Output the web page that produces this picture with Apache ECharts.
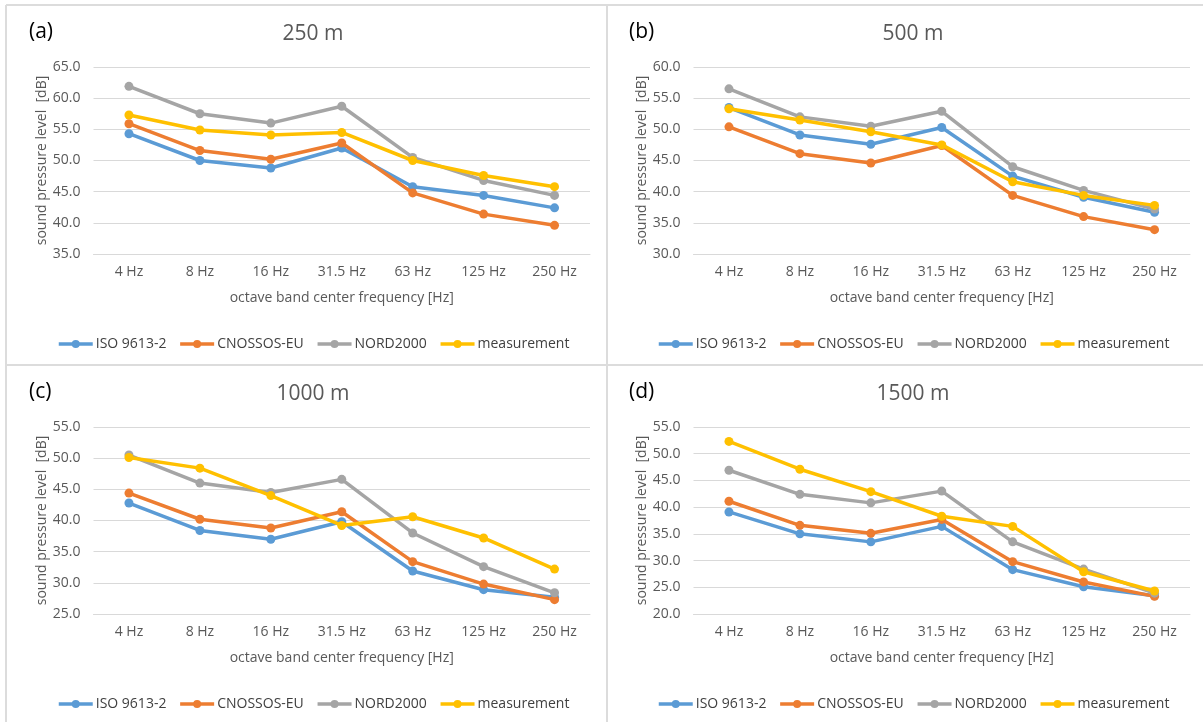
<!DOCTYPE html>
<html>
<head>
<meta charset="utf-8">
<script src="https://cdn.jsdelivr.net/npm/echarts@6/dist/echarts.min.js"></script>
<style>
  html, body { margin: 0; padding: 0; background: #ffffff; }
  #chart { width: 1203px; height: 722px; }
</style>
</head>
<body>
<div id="chart"></div>
<script>
// Octave band centre frequencies shared by all four panels
const categories = ['4 Hz', '8 Hz', '16 Hz', '31.5 Hz', '63 Hz', '125 Hz', '250 Hz'];
const seriesNames = ['ISO 9613-2', 'CNOSSOS-EU', 'NORD2000', 'measurement'];
const panelLetters = ['(a)', '(b)', '(c)', '(d)'];
const panelTitles = ['250 m', '500 m', '1000 m', '1500 m'];

// Y axis ranges per panel: [min, max, step]
const yRange250 = [35, 65, 5];
const yRange500 = [30, 60, 5];
const yRange1000 = [25, 55, 5];
const yRange1500 = [20, 55, 5];

// Sound pressure levels [dB] at 250 m
const iso250 = [54.3, 50.0, 48.8, 52.0, 45.8, 44.4, 42.4];
const cnossos250 = [55.9, 51.6, 50.2, 52.8, 44.8, 41.4, 39.6];
const nord250 = [61.9, 57.5, 56.0, 58.7, 50.5, 46.8, 44.4];
const meas250 = [57.3, 54.9, 54.1, 54.5, 50.0, 47.6, 45.8];

// Sound pressure levels [dB] at 500 m
const iso500 = [53.5, 49.1, 47.6, 50.3, 42.5, 39.1, 36.7];
const cnossos500 = [50.4, 46.1, 44.6, 47.4, 39.4, 36.0, 33.9];
const nord500 = [56.5, 52.0, 50.5, 52.9, 44.0, 40.2, 37.2];
const meas500 = [53.3, 51.5, 49.6, 47.5, 41.6, 39.4, 37.8];

// Sound pressure levels [dB] at 1000 m
const iso1000 = [42.8, 38.4, 37.0, 39.8, 31.9, 28.9, 27.7];
const cnossos1000 = [44.4, 40.2, 38.8, 41.4, 33.4, 29.8, 27.3];
const nord1000 = [50.5, 46.0, 44.5, 46.6, 38.0, 32.6, 28.4];
const meas1000 = [50.1, 48.4, 44.0, 39.2, 40.6, 37.2, 32.2];

// Sound pressure levels [dB] at 1500 m
const iso1500 = [39.1, 35.0, 33.5, 36.4, 28.3, 25.1, 23.4];
const cnossos1500 = [41.1, 36.6, 35.1, 37.7, 29.8, 26.0, 23.3];
const nord1500 = [46.9, 42.4, 40.8, 43.0, 33.5, 28.4, 23.9];
const meas1500 = [52.3, 47.1, 42.9, 38.3, 36.4, 27.9, 24.3];

const panelData = [
  [iso250, cnossos250, nord250, meas250],
  [iso500, cnossos500, nord500, meas500],
  [iso1000, cnossos1000, nord1000, meas1000],
  [iso1500, cnossos1500, nord1500, meas1500]
];
const panelRanges = [yRange250, yRange500, yRange1000, yRange1500];

const colors = ['#5B9BD5', '#ED7D31', '#A5A5A5', '#FFC000'];
const FONT = '"Open Sans", "Liberation Sans", sans-serif';
const TEXT = '#595959';
const GRID_LINE = '#d9d9d9';
const LINE_W = 3.5;

const grids = [], xAxes = [], yAxes = [], series = [], legends = [], titles = [];

for (let p = 0; p < 4; p++) {
  const ox = (p % 2) * 600;
  const oy = Math.floor(p / 2) * 360;
  const [ymin, ymax, ystep] = panelRanges[p];

  grids.push({ left: ox + 93.5, top: oy + 67, width: 496.5, height: 187, containLabel: false });

  xAxes.push({
    type: 'category',
    gridIndex: p,
    data: categories,
    boundaryGap: true,
    axisLine: { show: true, lineStyle: { color: GRID_LINE, width: 1 } },
    axisTick: { show: false },
    axisLabel: { color: TEXT, fontFamily: FONT, fontSize: 14, margin: 11 },
    name: 'octave band center frequency [Hz]',
    nameLocation: 'middle',
    nameGap: 37,
    nameTextStyle: { color: TEXT, fontFamily: FONT, fontSize: 14 }
  });

  yAxes.push({
    type: 'value',
    gridIndex: p,
    min: ymin,
    max: ymax,
    interval: ystep,
    axisLine: { show: false },
    axisTick: { show: false },
    splitLine: { show: true, lineStyle: { color: GRID_LINE, width: 1 } },
    axisLabel: {
      color: TEXT, fontFamily: FONT, fontSize: 14, margin: 13,
      formatter: v => v.toFixed(1)
    },
    name: 'sound pressure level  [dB]',
    nameLocation: 'middle',
    nameGap: 44,
    nameTextStyle: { color: TEXT, fontFamily: FONT, fontSize: 14 }
  });

  panelData[p].forEach((values, s) => {
    series.push({
      name: seriesNames[s],
      type: 'line',
      xAxisIndex: p,
      yAxisIndex: p,
      data: values,
      symbol: 'circle',
      symbolSize: 9,
      lineStyle: { color: colors[s], width: LINE_W },
      itemStyle: { color: colors[s] },
      z: 2 + s,
      animation: false
    });
  });

  legends.push({
    left: ox + 57,
    top: oy + 337,
    padding: 0,
    itemWidth: 34,
    itemHeight: 10,
    itemGap: 12,
    data: seriesNames,
    lineStyle: { width: LINE_W },
    textStyle: { color: '#404040', fontFamily: FONT, fontSize: 14, padding: [0, 0, 0, -2] },
    selectedMode: false
  });

  titles.push({
    text: panelLetters[p],
    left: ox + 24,
    top: oy + 17,
    textStyle: { color: '#000000', fontFamily: FONT, fontSize: 21, fontWeight: 'normal' }
  });
  titles.push({
    text: panelTitles[p],
    left: ox + 308,
    top: oy + 19,
    textAlign: 'center',
    textStyle: { color: TEXT, fontFamily: FONT, fontSize: 21, fontWeight: 'normal' }
  });
}

// Panel frame lines
const frame = { stroke: '#dcdcdc', lineWidth: 2 };
const graphic = [
  { type: 'line', shape: { x1: 6, y1: 5, x2: 1203, y2: 5 }, style: frame, silent: true },
  { type: 'line', shape: { x1: 6, y1: 5, x2: 6, y2: 722 }, style: frame, silent: true },
  { type: 'line', shape: { x1: 607, y1: 5, x2: 607, y2: 722 }, style: frame, silent: true },
  { type: 'line', shape: { x1: 6, y1: 365, x2: 1203, y2: 365 }, style: frame, silent: true }
];

const chart = echarts.init(document.getElementById('chart'), null, { renderer: 'canvas' });
chart.setOption({
  backgroundColor: '#ffffff',
  animation: false,
  title: titles,
  grid: grids,
  xAxis: xAxes,
  yAxis: yAxes,
  legend: legends,
  series: series,
  graphic: graphic
});
</script>
</body>
</html>
